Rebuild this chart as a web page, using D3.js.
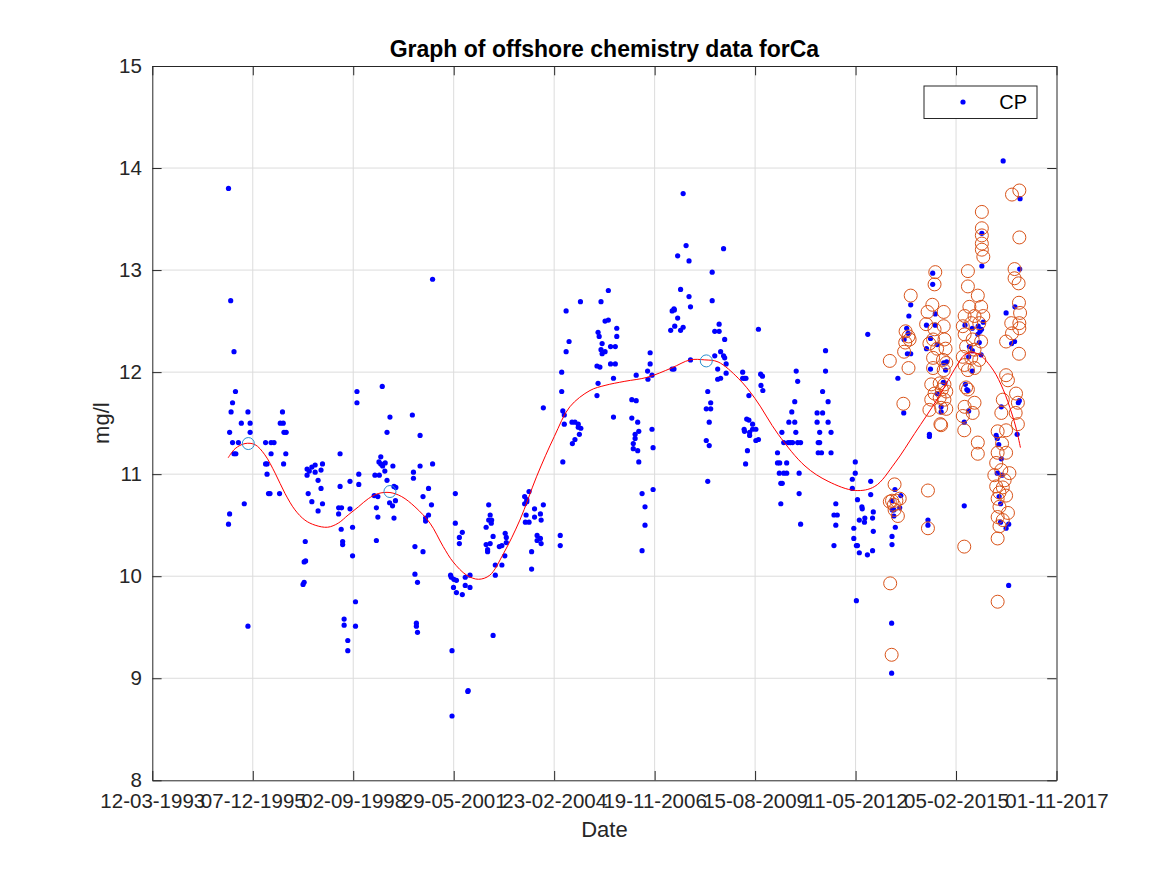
<!DOCTYPE html>
<html>
<head>
<meta charset="utf-8">
<script src="https://cdn.jsdelivr.net/npm/d3@7"></script>
<style>
  body { margin: 0; background: #fff; }
  svg { display: block; font-family: "Liberation Sans", Arial, Helvetica, sans-serif; }
</style>
</head>
<body>
<div id="vis"></div>
<script>
// tick dates shown on the x axis (every 1000 days)
const xTickLabels = ["12-03-1993", "07-12-1995", "02-09-1998", "29-05-2001", "23-02-2004",
  "19-11-2006", "15-08-2009", "11-05-2012", "05-02-2015", "01-11-2017"];
const yTicks = [8, 9, 10, 11, 12, 13, 14, 15];

// CP samples, [decimal year, mg/l]
const cpPoints = [
  [1995.27, 13.80], [1995.33, 12.70], [1995.42, 12.20], [1995.46, 11.81], [1995.38, 11.70],
  [1995.34, 11.61], [1995.30, 11.41], [1995.38, 11.31], [1995.42, 11.20], [1995.47, 11.20],
  [1995.54, 11.31], [1995.62, 11.50], [1995.80, 11.61], [1995.86, 11.50], [1995.86, 11.41],
  [1995.70, 10.71], [1995.30, 10.61], [1995.27, 10.51], [1995.80, 9.51],
  [1996.28, 11.31], [1996.43, 11.31], [1996.51, 11.31], [1996.43, 11.20], [1996.28, 11.10],
  [1996.32, 11.10], [1996.32, 11.00], [1996.36, 10.81], [1996.40, 10.81], [1996.66, 10.81],
  [1996.74, 11.61], [1996.68, 11.50], [1996.76, 11.50], [1996.78, 11.41], [1996.84, 11.41],
  [1996.83, 11.20], [1996.77, 11.10],
  [1997.41, 11.05], [1997.47, 11.03], [1997.41, 10.99], [1997.54, 11.07], [1997.63, 11.09],
  [1997.63, 11.02], [1997.79, 11.04], [1997.83, 11.10], [1997.71, 10.94], [1997.79, 10.86],
  [1997.44, 10.81], [1997.54, 10.73], [1997.83, 10.71], [1997.71, 10.64], [1997.36, 10.34],
  [1997.33, 10.14], [1997.37, 10.15], [1997.30, 9.92], [1997.33, 9.94],
  [1998.31, 11.20], [1998.31, 10.88], [1998.27, 10.67], [1998.35, 10.67], [1998.27, 10.61],
  [1998.34, 10.46], [1998.38, 10.34], [1998.38, 10.31], [1998.58, 10.93], [1998.58, 10.66],
  [1998.65, 10.48], [1998.65, 10.20], [1998.82, 11.00], [1998.82, 10.90], [1998.77, 11.81],
  [1998.77, 11.70], [1998.42, 9.58], [1998.42, 9.52], [1998.52, 9.37], [1998.52, 9.27],
  [1998.73, 9.75], [1998.73, 9.51],
  [1999.46, 11.86], [1999.67, 11.56], [1999.59, 11.41], [1999.42, 11.17], [1999.37, 11.12],
  [1999.42, 11.10], [1999.47, 11.08], [1999.54, 11.11], [1999.53, 11.03], [1999.75, 11.08],
  [1999.26, 10.99], [1999.38, 10.99], [1999.59, 10.94], [1999.78, 10.88], [1999.83, 10.87],
  [1999.24, 10.79], [1999.34, 10.78], [1999.66, 10.72], [1999.74, 10.69], [1999.82, 10.74],
  [1999.30, 10.67], [1999.34, 10.58], [1999.78, 10.57], [1999.30, 10.35],
  [2000.83, 12.91], [2000.28, 11.58], [2000.49, 11.38], [2000.49, 11.08], [2000.83, 11.10],
  [2000.31, 11.02], [2000.31, 10.96], [2000.72, 10.86], [2000.57, 10.78], [2000.80, 10.70],
  [2000.72, 10.60], [2000.64, 10.57], [2000.64, 10.54], [2000.35, 10.29], [2000.57, 10.24],
  [2000.35, 10.02], [2000.42, 9.94], [2000.39, 9.54], [2000.39, 9.51], [2000.42, 9.45],
  [2001.45, 10.81], [2001.45, 10.52], [2001.56, 10.38], [2001.64, 10.43], [2001.56, 10.32],
  [2001.32, 10.01], [2001.34, 9.99], [2001.41, 9.97], [2001.48, 9.96], [2001.40, 9.89],
  [2001.48, 9.84], [2001.64, 9.82], [2001.72, 9.99], [2001.85, 10.01], [2001.72, 9.91],
  [2001.85, 9.89], [2001.36, 9.27], [2001.79, 8.87], [2001.80, 8.88], [2001.36, 8.63],
  [2002.36, 10.70], [2002.40, 10.60], [2002.36, 10.55], [2002.44, 10.55], [2002.43, 10.52],
  [2002.29, 10.48], [2002.48, 10.39], [2002.29, 10.31], [2002.40, 10.32], [2002.33, 10.26],
  [2002.33, 10.24], [2002.65, 10.29], [2002.72, 10.30], [2002.81, 10.42], [2002.84, 10.38],
  [2002.84, 10.33], [2002.80, 10.20], [2002.54, 10.11], [2002.72, 10.11], [2002.54, 10.01],
  [2002.48, 9.42],
  [2003.34, 10.78], [2003.46, 10.83], [2003.34, 10.71], [2003.40, 10.75], [2003.40, 10.73],
  [2003.38, 10.60], [2003.36, 10.53], [2003.46, 10.53], [2003.61, 10.66], [2003.61, 10.58],
  [2003.85, 10.70], [2003.77, 10.61], [2003.79, 10.55], [2003.68, 10.40], [2003.77, 10.37],
  [2003.68, 10.35], [2003.79, 10.32], [2003.53, 10.24], [2003.53, 10.07], [2003.85, 11.65],
  [2004.31, 10.40], [2004.31, 10.30], [2004.35, 12.00], [2004.35, 11.81], [2004.38, 11.62],
  [2004.42, 11.58], [2004.42, 11.49], [2004.38, 11.12], [2004.47, 12.60], [2004.55, 12.30],
  [2004.47, 12.20], [2004.86, 12.69], [2004.63, 11.51], [2004.71, 11.51], [2004.80, 11.49],
  [2004.80, 11.46], [2004.87, 11.45], [2004.83, 11.39], [2004.71, 11.34], [2004.64, 11.30],
  [2005.42, 12.69], [2005.62, 12.80], [2005.34, 12.39], [2005.37, 12.35], [2005.45, 12.28],
  [2005.42, 12.22], [2005.45, 12.18], [2005.53, 12.20], [2005.53, 12.50], [2005.62, 12.51],
  [2005.31, 12.06], [2005.39, 12.05], [2005.34, 11.89], [2005.31, 11.77],
  [2005.68, 12.25], [2005.81, 12.25], [2005.85, 12.43], [2005.85, 12.35], [2005.68, 12.08],
  [2005.81, 12.08], [2005.76, 11.94], [2005.76, 11.56],
  [2006.26, 11.73], [2006.38, 11.72], [2006.26, 11.55], [2006.42, 11.51], [2006.45, 11.42],
  [2006.35, 11.39], [2006.35, 11.35], [2006.30, 11.30], [2006.30, 11.25], [2006.42, 11.23],
  [2006.45, 11.12], [2006.54, 10.81], [2006.62, 10.68], [2006.62, 10.50], [2006.54, 10.25],
  [2006.38, 11.97], [2006.69, 12.01], [2006.70, 11.93], [2006.76, 12.19], [2006.76, 12.08],
  [2006.81, 11.97], [2006.81, 11.44], [2006.84, 11.26], [2006.84, 10.85],
  [2007.66, 13.75], [2007.74, 13.24], [2007.51, 13.14], [2007.82, 13.09], [2007.59, 12.81],
  [2007.82, 12.74], [2007.86, 12.64], [2007.36, 12.60], [2007.41, 12.62], [2007.42, 12.61],
  [2007.51, 12.53], [2007.43, 12.45], [2007.66, 12.44], [2007.32, 12.41], [2007.59, 12.41],
  [2007.36, 12.03], [2007.41, 12.03], [2007.86, 12.12],
  [2008.45, 12.98], [2008.76, 13.21], [2008.45, 12.70], [2008.64, 12.47], [2008.52, 12.40],
  [2008.64, 12.40], [2008.79, 12.32], [2008.68, 12.20], [2008.52, 12.16], [2008.76, 12.16],
  [2008.79, 12.14], [2008.83, 12.08], [2008.60, 12.03], [2008.83, 11.99], [2008.60, 11.93],
  [2008.68, 11.94], [2008.33, 11.81], [2008.41, 11.70], [2008.29, 11.64], [2008.41, 11.64],
  [2008.37, 11.51], [2008.29, 11.33], [2008.37, 11.28], [2008.33, 10.93],
  [2009.28, 12.00], [2009.28, 11.94], [2009.33, 11.94], [2009.37, 11.94], [2009.45, 11.77],
  [2009.71, 12.42], [2009.77, 11.98], [2009.82, 11.96], [2009.78, 11.87], [2009.83, 11.82],
  [2009.39, 11.54], [2009.45, 11.53], [2009.55, 11.49], [2009.32, 11.44], [2009.33, 11.42],
  [2009.55, 11.44], [2009.64, 11.44], [2009.47, 11.41], [2009.47, 11.38], [2009.64, 11.33],
  [2009.71, 11.34], [2009.41, 11.23], [2009.36, 11.10],
  [2010.74, 12.01], [2010.78, 11.91], [2010.70, 11.71], [2010.62, 11.61], [2010.54, 11.51],
  [2010.70, 11.51], [2010.35, 11.41], [2010.73, 11.41], [2010.40, 11.31], [2010.52, 11.31],
  [2010.58, 11.31], [2010.64, 11.31], [2010.78, 11.31], [2010.86, 11.31], [2010.23, 11.21],
  [2010.23, 11.11], [2010.29, 11.11], [2010.48, 11.11], [2010.28, 11.01], [2010.40, 11.01],
  [2010.48, 11.01], [2010.82, 11.01], [2010.32, 10.91], [2010.36, 10.91], [2010.82, 10.81],
  [2010.32, 10.71], [2010.86, 10.51],
  [2011.54, 12.21], [2011.54, 12.01], [2011.46, 11.81], [2011.61, 11.71], [2011.31, 11.60],
  [2011.46, 11.60], [2011.31, 11.51], [2011.61, 11.51], [2011.38, 11.41], [2011.69, 11.41],
  [2011.34, 11.31], [2011.38, 11.31], [2011.34, 11.21], [2011.43, 11.21], [2011.69, 11.21],
  [2011.82, 10.71], [2011.77, 10.60], [2011.86, 10.60], [2011.82, 10.50], [2011.77, 10.30],
  [2012.35, 11.12], [2012.35, 11.01], [2012.27, 10.95], [2012.27, 10.86], [2012.41, 10.75],
  [2012.53, 10.68], [2012.54, 10.66], [2012.46, 10.55], [2012.61, 10.57], [2012.60, 10.53],
  [2012.77, 10.93], [2012.77, 10.80], [2012.84, 10.63], [2012.82, 10.57], [2012.84, 10.44],
  [2012.31, 10.47], [2012.31, 10.37], [2012.38, 10.30], [2012.41, 10.30], [2012.46, 10.23],
  [2012.68, 10.21], [2012.82, 10.25], [2012.38, 9.76], [2012.69, 12.37],
  [2013.86, 12.66], [2013.81, 12.55], [2013.75, 12.43], [2013.68, 12.32], [2013.79, 12.38],
  [2013.77, 12.18], [2013.86, 12.18], [2013.51, 11.94], [2013.67, 11.60], [2013.43, 10.85],
  [2013.35, 10.74], [2013.40, 10.65], [2013.36, 10.65], [2013.56, 10.67], [2013.59, 10.79],
  [2013.40, 10.59], [2013.44, 10.48], [2013.35, 10.39], [2013.35, 10.31], [2013.34, 9.54],
  [2013.34, 9.05],
  [2014.33, 10.55], [2014.33, 10.50], [2014.46, 12.97], [2014.46, 12.86], [2014.53, 12.57],
  [2014.29, 12.46], [2014.53, 12.46], [2014.40, 12.33], [2014.29, 12.23], [2014.58, 12.27],
  [2014.40, 12.03], [2014.76, 12.09], [2014.84, 12.10], [2014.81, 12.02], [2014.75, 11.90],
  [2014.79, 11.89], [2014.58, 11.79], [2014.69, 11.66], [2014.69, 11.61], [2014.37, 11.39],
  [2014.37, 11.37],
  [2015.80, 13.36], [2015.80, 13.04], [2015.34, 12.46], [2015.54, 12.43], [2015.70, 12.45],
  [2015.84, 12.49], [2015.75, 12.40], [2015.69, 12.37], [2015.79, 12.42], [2015.73, 12.29],
  [2015.46, 12.25], [2015.54, 12.21], [2015.78, 12.17], [2015.44, 12.15], [2015.54, 12.01],
  [2015.35, 11.88], [2015.39, 11.83], [2015.42, 11.82], [2015.44, 11.62], [2015.32, 11.51],
  [2015.32, 10.69],
  [2016.38, 14.07], [2016.84, 13.70], [2016.83, 13.01], [2016.46, 12.58], [2016.70, 12.64],
  [2016.61, 12.28], [2016.69, 12.30], [2016.33, 11.66], [2016.79, 11.70], [2016.82, 11.72],
  [2016.76, 11.39], [2016.19, 11.38], [2016.22, 11.35], [2016.26, 11.29], [2016.33, 11.15],
  [2016.22, 11.01], [2016.35, 10.99], [2016.27, 10.78], [2016.31, 10.71], [2016.31, 10.53],
  [2016.53, 10.51], [2016.46, 10.47], [2016.53, 9.91]
];

// second sampling series, drawn as open circles
const circlePoints = [
  [2013.29, 12.11], [2013.30, 9.93], [2013.34, 9.23], [2013.42, 10.90], [2013.35, 10.74],
  [2013.29, 10.73], [2013.40, 10.70], [2013.47, 10.74], [2013.56, 10.76], [2013.51, 10.59],
  [2013.42, 10.65], [2013.66, 11.69], [2013.80, 12.04], [2013.86, 12.75], [2013.72, 12.40],
  [2013.80, 12.35], [2013.83, 12.32], [2013.71, 12.29], [2013.68, 12.20],
  [2014.53, 12.98], [2014.51, 12.86], [2014.45, 12.66], [2014.32, 12.59], [2014.76, 12.59],
  [2014.28, 12.47], [2014.51, 12.42], [2014.76, 12.45], [2014.47, 12.32], [2014.78, 12.32],
  [2014.37, 12.28], [2014.58, 12.23], [2014.81, 12.23], [2014.47, 12.14], [2014.74, 12.12],
  [2014.83, 12.09], [2014.47, 12.04], [2014.76, 12.02], [2014.42, 11.88], [2014.65, 11.89],
  [2014.78, 11.88], [2014.51, 11.79], [2014.71, 11.83], [2014.83, 11.81], [2014.42, 11.73],
  [2014.65, 11.75], [2014.78, 11.73], [2014.37, 11.63], [2014.69, 11.65], [2014.83, 11.64],
  [2014.67, 11.49], [2014.69, 11.48], [2014.33, 10.84], [2014.33, 10.47],
  [2015.80, 13.57], [2015.80, 13.41], [2015.80, 13.34], [2015.80, 13.26], [2015.80, 13.20],
  [2015.84, 13.13], [2015.42, 12.99], [2015.42, 12.84], [2015.69, 12.75], [2015.46, 12.64],
  [2015.78, 12.64], [2015.84, 12.55], [2015.33, 12.55], [2015.60, 12.55], [2015.28, 12.45],
  [2015.51, 12.48], [2015.73, 12.48], [2015.33, 12.37], [2015.55, 12.32], [2015.78, 12.30],
  [2015.37, 12.25], [2015.60, 12.22], [2015.28, 12.15], [2015.51, 12.14], [2015.73, 12.12],
  [2015.33, 12.07], [2015.60, 12.04], [2015.42, 12.02], [2015.37, 11.85], [2015.42, 11.83],
  [2015.60, 11.70], [2015.33, 11.66], [2015.28, 11.57], [2015.55, 11.60], [2015.32, 11.43],
  [2015.69, 11.31], [2015.69, 11.20], [2015.32, 10.29],
  [2016.82, 13.78], [2016.62, 13.74], [2016.82, 13.32], [2016.69, 13.01], [2016.69, 12.92],
  [2016.80, 12.87], [2016.81, 12.68], [2016.84, 12.58], [2016.82, 12.48], [2016.82, 12.43],
  [2016.60, 12.48], [2016.62, 12.38], [2016.46, 12.30], [2016.81, 12.18], [2016.46, 11.97],
  [2016.51, 11.92], [2016.73, 11.79], [2016.78, 11.70], [2016.72, 11.60], [2016.78, 11.49],
  [2016.37, 11.73], [2016.33, 11.60], [2016.46, 11.43], [2016.23, 11.42], [2016.35, 11.30],
  [2016.23, 11.21], [2016.46, 11.21], [2016.19, 11.11], [2016.33, 11.04], [2016.14, 10.99],
  [2016.42, 10.94], [2016.55, 11.01], [2016.19, 10.88], [2016.37, 10.87], [2016.28, 10.82],
  [2016.23, 10.76], [2016.46, 10.79], [2016.28, 10.68], [2016.51, 10.62], [2016.23, 10.58],
  [2016.37, 10.55], [2016.28, 10.49], [2016.23, 10.37], [2016.23, 9.75]
];

// the three highlighted samples on the fit
const markPoints = [[1995.81, 11.30], [1999.67, 10.83], [2008.29, 12.11]];

// smoothed trend (red line)
const fitPoints = [
  [1995.26, 11.16], [1995.45, 11.25], [1995.72, 11.30], [1995.99, 11.29], [1996.26, 11.19],
  [1996.54, 11.01], [1996.81, 10.81], [1997.08, 10.65], [1997.35, 10.55], [1997.63, 10.50],
  [1997.97, 10.48], [1998.26, 10.52], [1998.53, 10.60], [1998.81, 10.68], [1999.08, 10.76],
  [1999.35, 10.81], [1999.67, 10.82], [1999.99, 10.78], [2000.35, 10.68], [2000.76, 10.52],
  [2001.12, 10.29], [2001.39, 10.14], [2001.76, 10.01], [2002.08, 9.97], [2002.39, 10.01],
  [2002.76, 10.22], [2003.21, 10.55], [2003.67, 10.98], [2004.15, 11.37], [2004.57, 11.66],
  [2005.12, 11.82], [2005.53, 11.87], [2006.07, 11.91], [2006.69, 11.95], [2007.34, 12.04],
  [2007.85, 12.12], [2008.25, 12.12], [2008.61, 12.10], [2009.16, 11.94], [2009.62, 11.74],
  [2010.25, 11.39], [2010.98, 11.08], [2011.61, 10.93], [2012.35, 10.84], [2012.88, 10.88],
  [2013.43, 11.11], [2013.97, 11.40], [2014.61, 11.75], [2015.11, 12.06], [2015.33, 12.17],
  [2015.53, 12.19], [2015.74, 12.17], [2016.11, 12.02], [2016.38, 11.83], [2016.61, 11.60],
  [2016.74, 11.44], [2016.85, 11.26]
];

//#region layout
const W = 1167;
const H = 875;
const PL = 152.3, PR = 1056.5, PT = 66, PB = 780.3;
const tickLen = 9.3;
const axisColor = "#262626";
const gridColor = "#dcdcdc";

const parseTick = d3.timeParse("%d-%m-%Y");
const tickDates = xTickLabels.map(parseTick);

function fromDecimalYear(y) {
  const yr = Math.floor(y);
  const a = new Date(yr, 0, 1), b = new Date(yr + 1, 0, 1);
  return new Date(a.getTime() + (y - yr) * (b - a));
}

const xScale = d3.scaleTime()
  .domain([tickDates[0], tickDates[tickDates.length - 1]])
  .range([PL, PR]);

const yScale = d3.scaleLinear()
  .domain([8, 15])
  .range([PB, PT]);
//#endregion

const svg = d3.select("#vis")
  .append("svg")
    .attr("width", W)
    .attr("height", H);

// grid
const grid = svg.append("g").attr("stroke", gridColor).attr("stroke-width", 1);
grid.selectAll(".gx")
  .data(tickDates.slice(1, -1))
  .enter()
  .append("line")
    .attr("x1", d => xScale(d)).attr("x2", d => xScale(d))
    .attr("y1", PT).attr("y2", PB);
grid.selectAll(".gy")
  .data(yTicks.slice(1, -1))
  .enter()
  .append("line")
    .attr("x1", PL).attr("x2", PR)
    .attr("y1", d => yScale(d)).attr("y2", d => yScale(d));

// CP dots
svg.append("g")
  .selectAll("circle")
  .data(cpPoints)
  .enter()
  .append("circle")
    .attr("cx", d => xScale(fromDecimalYear(d[0])))
    .attr("cy", d => yScale(d[1]))
    .attr("r", 2.6)
    .attr("fill", "#0000ff");

// open circles
svg.append("g")
  .selectAll("circle")
  .data(circlePoints)
  .enter()
  .append("circle")
    .attr("cx", d => xScale(fromDecimalYear(d[0])))
    .attr("cy", d => yScale(d[1]))
    .attr("r", 6.5)
    .attr("fill", "none")
    .attr("stroke", "#d95319")
    .attr("stroke-width", 1);

// trend line
const line = d3.line()
  .x(d => xScale(fromDecimalYear(d[0])))
  .y(d => yScale(d[1]))
  .curve(d3.curveCatmullRom);

svg.append("path")
  .datum(fitPoints)
  .attr("d", line)
  .attr("fill", "none")
  .attr("stroke", "#ff0000")
  .attr("stroke-width", 1);

svg.append("g")
  .selectAll("circle")
  .data(markPoints)
  .enter()
  .append("circle")
    .attr("cx", d => xScale(fromDecimalYear(d[0])))
    .attr("cy", d => yScale(d[1]))
    .attr("r", 6)
    .attr("fill", "none")
    .attr("stroke", "#2b8fcf")
    .attr("stroke-width", 1);

// axes: inward ticks on all four sides, like the matlab box
const xAxis = d3.axisBottom(xScale)
  .tickValues(tickDates)
  .tickFormat((d, i) => xTickLabels[i])
  .tickSizeInner(-tickLen)
  .tickSizeOuter(0)
  .tickPadding(13.5);

const yAxis = d3.axisLeft(yScale)
  .tickValues(yTicks)
  .tickFormat(d3.format("d"))
  .tickSizeInner(-tickLen)
  .tickSizeOuter(0)
  .tickPadding(10.5);

const gx = svg.append("g")
  .attr("transform", `translate(0, ${PB})`)
  .call(xAxis);

const gy = svg.append("g")
  .attr("transform", `translate(${PL}, 0)`)
  .call(yAxis);

svg.append("g")
  .attr("transform", `translate(0, ${PT})`)
  .call(d3.axisTop(xScale).tickValues(tickDates).tickFormat("").tickSizeInner(-tickLen).tickSizeOuter(0));

svg.append("g")
  .attr("transform", `translate(${PR}, 0)`)
  .call(d3.axisRight(yScale).tickValues(yTicks).tickFormat("").tickSizeInner(-tickLen).tickSizeOuter(0));

svg.selectAll(".domain, .tick line").attr("stroke", axisColor).attr("stroke-width", 1);

gx.selectAll(".tick text")
  .attr("font-size", 20.5)
  .attr("font-family", "Liberation Sans, Arial, sans-serif")
  .attr("fill", axisColor);

gy.selectAll(".tick text")
  .attr("font-size", 20.5)
  .attr("font-family", "Liberation Sans, Arial, sans-serif")
  .attr("fill", axisColor);

// labels
svg.append("text")
  .attr("x", (PL + PR) / 2)
  .attr("y", 57)
  .attr("text-anchor", "middle")
  .attr("font-size", 23)
  .attr("font-weight", "bold")
  .attr("fill", "#000")
  .text("Graph of offshore chemistry data forCa");

svg.append("text")
  .attr("x", (PL + PR) / 2)
  .attr("y", 837)
  .attr("text-anchor", "middle")
  .attr("font-size", 22)
  .attr("fill", axisColor)
  .text("Date");

svg.append("text")
  .attr("transform", `translate(109, ${(PT + PB) / 2}) rotate(-90)`)
  .attr("text-anchor", "middle")
  .attr("font-size", 22)
  .attr("fill", axisColor)
  .text("mg/l");

// legend
const legend = svg.append("g").attr("transform", "translate(924, 86)");
legend.append("rect")
  .attr("width", 113)
  .attr("height", 32.5)
  .attr("fill", "#fff")
  .attr("stroke", axisColor)
  .attr("stroke-width", 1);
legend.append("circle")
  .attr("cx", 39)
  .attr("cy", 16)
  .attr("r", 2.6)
  .attr("fill", "#0000ff");
legend.append("text")
  .attr("x", 103)
  .attr("y", 23)
  .attr("text-anchor", "end")
  .attr("font-size", 20)
  .attr("fill", "#000")
  .text("CP");
</script>
</body>
</html>
